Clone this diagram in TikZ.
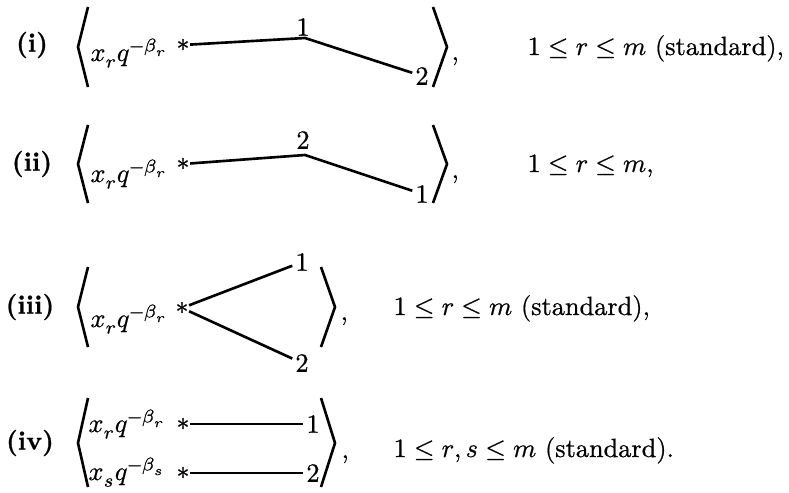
\documentclass[tikz,border=0pt]{standalone}
\usepackage{amsmath}
\usepackage{unicode-math}
\setmainfont{Latin Modern Roman}[FakeBold=0.7]
\setmathfont{Latin Modern Math}[FakeBold=0.7]
\usepackage{tikz}
\usetikzlibrary{positioning, calc}

\begin{document}
\begin{tikzpicture}[
    x=0.38pt, y=-0.38pt,
    edge/.style={line width=1pt},
    brk/.style={line width=1pt, line join=miter},
    star/.style={inner sep=0pt},
    num/.style={inner sep=1pt},
    term/.style={anchor=base west, inner sep=0pt},
    case/.style={font=\bfseries, inner sep=0pt}
]
\useasboundingbox (0,0) rectangle (789,493);

% Case (i)
\node[case] (c1) at (32,45) {(i)};
\draw[brk] (88,7) -- (78,47) -- (88,87);
\node[term] (t1) at (90,61) {$x_r q^{-\beta_r}$};
\node[star] (s1) at (183,45) {$\ast$};
\coordinate (p1) at (305,38);
\node[num] (one1) at (303,27) {$1$};
\node[num] (two1) at (422,76) {$2$};
\draw[edge] (s1) -- (p1) -- (two1);
\draw[brk] (433,7) -- (447,47) -- (433,87);
\node[term] (k1) at (451,60) {,};
\node[term] (r1) at (527,55) {$1\le r\le m$ (standard),};

% Case (ii)
\node[case] (c2) at (32,164) {(ii)};
\draw[brk] (88,125) -- (78,164) -- (88,203);
\node[term] (t2) at (90,182) {$x_r q^{-\beta_r}$};
\node[star] (s2) at (183,164) {$\ast$};
\coordinate (p2) at (305,155);
\node[num] (two2) at (303,140) {$2$};
\node[num] (one2) at (422,194) {$1$};
\draw[edge] (s2) -- (p2) -- (one2);
\draw[brk] (433,125) -- (447,164) -- (433,203);
\node[term] (k2) at (451,178) {,};
\node[term] (r2) at (527,172) {$1\le r\le m$,};

% Case (iii)
\node[case] (c3) at (30,307) {(iii)};
\draw[brk] (88,267) -- (78,307) -- (88,347);
\node[term] (t3) at (90,327) {$x_r q^{-\beta_r}$};
\node[star] (s3) at (182,308) {$\ast$};
\node[num] (one3) at (302,262) {$1$};
\node[num] (two3) at (302,363) {$2$};
\draw[edge] (s3) -- (one3);
\draw[edge] (s3) -- (two3);
\draw[brk] (321,267) -- (335,307) -- (321,347);
\node[term] (k3) at (340,320) {,};
\node[term] (r3) at (393,315) {$1\le r\le m$ (standard),};

% Case (iv)
\node[case] (c4) at (30,443) {(iv)};
\draw[brk] (88,398) -- (78,443) -- (88,487);
\node[term] (t4a) at (88,432) {$x_r q^{-\beta_r}$};
\node[term] (t4b) at (88,480) {$x_s q^{-\beta_s}$};
\node[star] (s4a) at (183,424) {$\ast$};
\node[star] (s4b) at (183,473) {$\ast$};
\node[num] (one4) at (313,424) {$1$};
\node[num] (two4) at (313,473) {$2$};
\draw[edge] (s4a) -- (one4);
\draw[edge] (s4b) -- (two4);
\draw[brk] (321,398) -- (335,443) -- (321,487);
\node[term] (k4) at (341,458) {,};
\node[term] (r4) at (393,457) {$1\le r,s\le m$ (standard).};

\end{tikzpicture}
\end{document}
